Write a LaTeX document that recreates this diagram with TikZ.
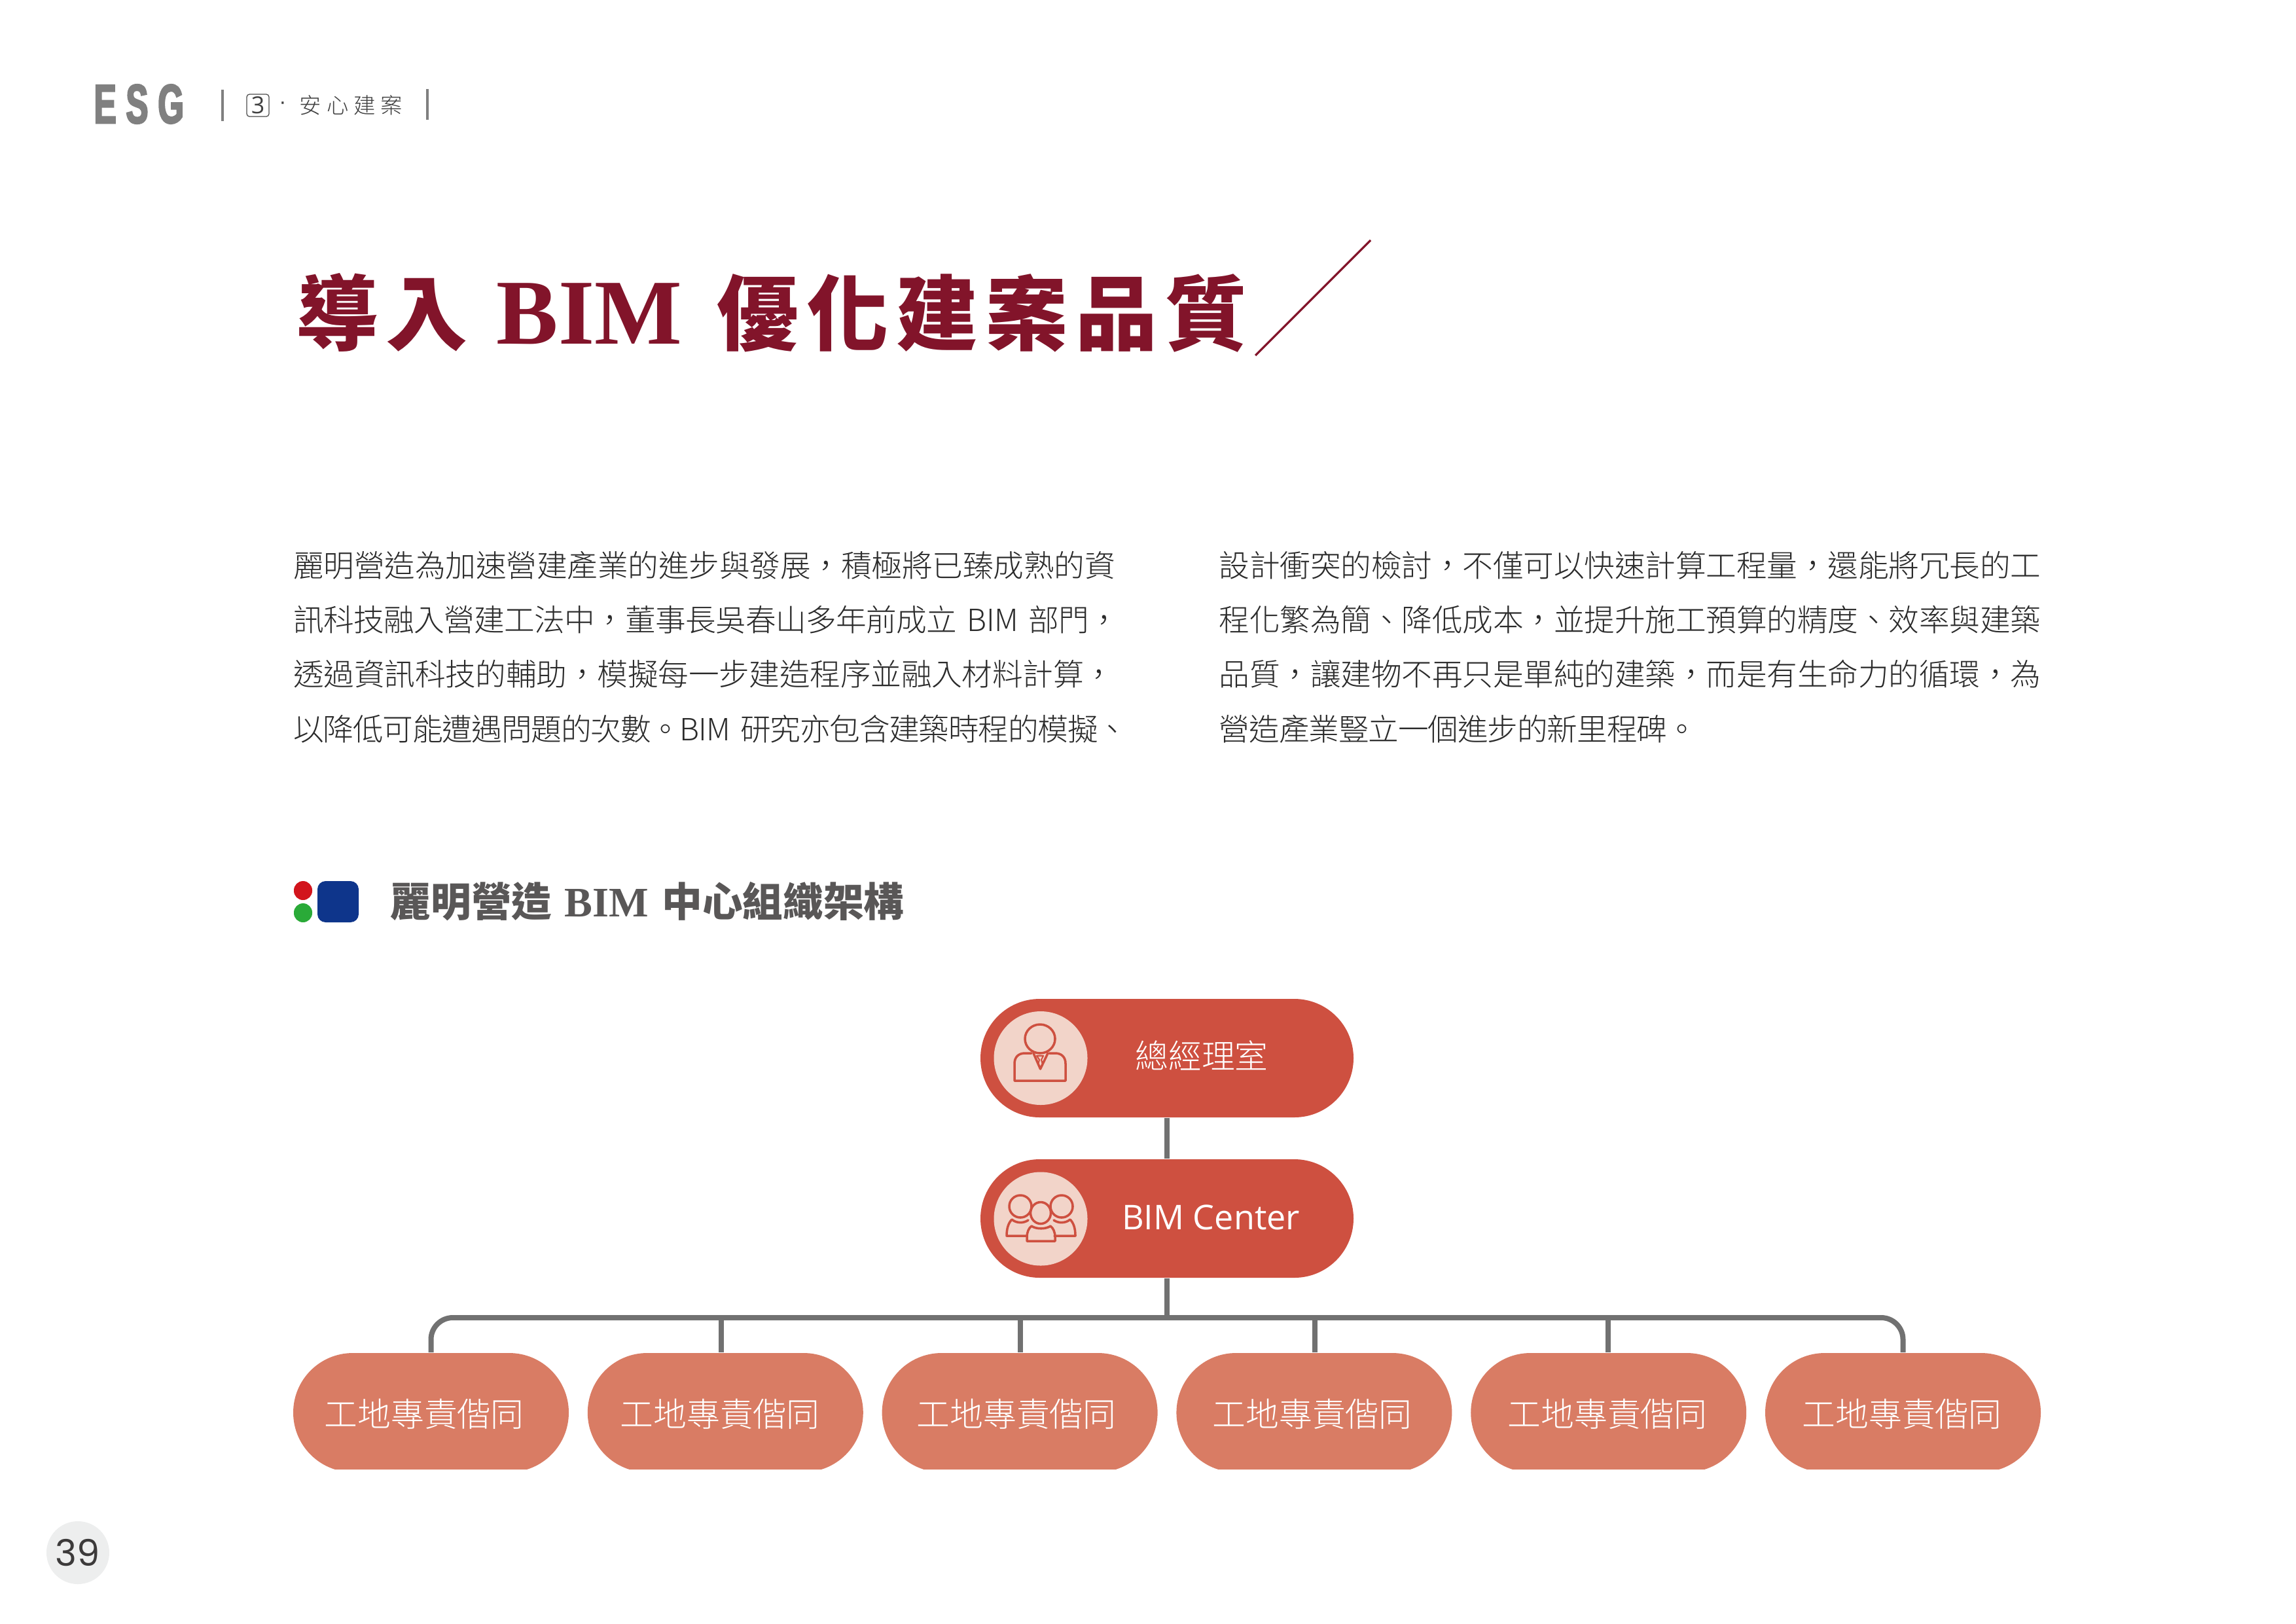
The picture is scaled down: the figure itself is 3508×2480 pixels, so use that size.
\documentclass[tikz,border=0pt]{standalone}
\usepackage{fontspec}
\usetikzlibrary{shapes.misc,backgrounds}
\setmainfont{Liberation Sans}
\newfontfamily\cjk{Noto Sans CJK TC}
\newfontfamily\cjklight{Noto Sans CJK TC Light}
\newfontfamily\cjkspaced{Noto Sans CJK TC Light}[LetterSpace=24]
\newfontfamily\titlecjk{Noto Sans CJK TC}[LetterSpace=9.6]
\newfontfamily\serifb{Liberation Serif}
\newfontfamily\esgfont{Liberation Sans}[UprightFont=* Bold,FakeStretch=0.6,LetterSpace=18,FakeBold=3]
\newfontfamily\numfont{Poppins}
\newfontfamily\latinlight{Open Sans}
\definecolor{pillred}{HTML}{CE5040}
\definecolor{workerred}{HTML}{D97C64}
\definecolor{disc}{HTML}{F2D4C9}
\definecolor{connector}{HTML}{717171}
\definecolor{titlered}{HTML}{82142A}
\definecolor{bodyink}{HTML}{2B2B2B}
\definecolor{subink}{HTML}{595757}
\definecolor{headgrey}{HTML}{808080}
\newcommand{\jline}[2]{{\addfontfeature{LetterSpace=#1}#2}}
\tikzset{
  mainpill/.style={rounded rectangle,fill=pillred,minimum width=136.8pt,minimum height=43.44pt,inner sep=0pt},
  workerpill/.style={rounded rectangle,fill=workerred,minimum width=101.04pt,minimum height=43.68pt,inner sep=0pt},
  disc/.style={circle,fill=disc,minimum size=34.32pt,inner sep=0pt},
  pilltext/.style={text=white,inner sep=0pt,font=\cjklight\fontsize{12.2}{14}\selectfont},
  bodytext/.style={anchor=north west,inner sep=0pt,align=left,text=bodyink,text width=320pt,font=\cjklight\fontsize{11.2}{20}\selectfont},
  conn/.style={draw=connector,line width=1.92pt},
  icon/.style={draw=pillred,line width=0.85pt,line join=round,line cap=round},
  headbar/.style={draw=headgrey,line width=0.75pt},
}
\begin{document}
\begin{tikzpicture}[x=0.24pt,y=-0.24pt]
\useasboundingbox (0,0) rectangle (3508,2480);
\begin{scope}[on background layer]
\fill[white] (0,0) rectangle (3508,2480);
\end{scope}

% running head
\node[anchor=base west,inner sep=0pt,text=headgrey,font=\esgfont\fontsize{20.2}{22}\selectfont] (esg) at (143,188) {ESG};
\coordinate (bar1t) at (340,137); \coordinate (bar1b) at (340,185);
\coordinate (bar2t) at (653,136); \coordinate (bar2b) at (653,183);
\draw[headbar] (bar1t) -- (bar1b);
\draw[headbar] (bar2t) -- (bar2b);
\node[draw=black!70,line width=0.3pt,rounded corners=1pt,minimum width=8.16pt,minimum height=8.16pt,inner sep=0pt,text=black!75,font=\latinlight\fontsize{8.6}{9}\selectfont] (chapno) at (394,161) {3};
\node[inner sep=0pt,text=black!75,font=\fontsize{8}{9}\selectfont] (dot) at (432,161) {·};
\node[anchor=west,inner sep=0pt,text=black!75,font=\cjkspaced\fontsize{8}{9}\selectfont] (chap) at (457,161) {安心建案};

% title
\node[anchor=base west,inner sep=0pt,text=titlered] (title) at (452,525) {\titlecjk\bfseries\fontsize{30}{34}\selectfont 導入\hspace{10.5pt}\serifb\bfseries\fontsize{34}{36}\selectfont BIM\hspace{12.9pt}\titlecjk\bfseries\fontsize{30}{34}\selectfont 優化建案品質};
\coordinate (slashA) at (1918,543); \coordinate (slashB) at (2094,367);
\draw[titlered,line width=0.75pt] (slashA) -- (slashB);

% body columns
\node[bodytext] (bodyL) at (447.5,841) {\jline{-0.36}{麗明營造為加速營建產業的進步與發展，積極將已臻成熟的資}\\
\jline{-1.3}{訊科技融入營建工法中，董事長吳春山多年前成立 BIM 部門，}\\
\jline{-0.5}{透過資訊科技的輔助，模擬每一步建造程序並融入材料計算，}\\
\jline{-2.65}{以降低可能遭遇問題的次數。BIM 研究亦包含建築時程的模擬、}};
\node[bodytext] (bodyR) at (1862,841) {\jline{-0.36}{設計衝突的檢討，不僅可以快速計算工程量，還能將冗長的工}\\
\jline{-0.36}{程化繁為簡、降低成本，並提升施工預算的精度、效率與建築}\\
\jline{-0.36}{品質，讓建物不再只是單純的建築，而是有生命力的循環，為}\\
\jline{-2.4}{營造產業豎立一個進步的新里程碑。}};

% sub-heading
\node[rounded rectangle,fill={rgb,255:red,210;green,20;blue,28},inner sep=0pt,rotate=90,minimum width=6.96pt,minimum height=6.72pt] (dotR) at (463,1360.5) {};
\node[rounded rectangle,fill={rgb,255:red,42;green,170;blue,56},inner sep=0pt,rotate=90,minimum width=6.96pt,minimum height=6.72pt] (dotG) at (463,1394.5) {};
\node[fill={rgb,255:red,14;green,53;blue,139},rounded corners=3pt,minimum width=15.12pt,minimum height=15.12pt,inner sep=0pt] (blueBox) at (516.5,1377.5) {};
\node[anchor=base west,inner sep=0pt,text=subink] (sub) at (596,1400) {\cjk\bfseries\fontsize{14.8}{17}\selectfont 麗明營造\hspace{4.5pt}\serifb\bfseries\fontsize{15.4}{17}\selectfont BIM\hspace{5pt}\cjk\bfseries\fontsize{14.8}{17}\selectfont 中心組織架構};

% org chart
\node[mainpill] (gm) at (1783,1616.5) {};
\node[mainpill] (bim) at (1783,1861.5) {};
\node[disc] (gmdisc) at (1590,1616.5) {};
\node[disc] (bimdisc) at (1590,1862) {};
\node[pilltext] (gmtext) at (1836,1612) {總經理室};
\node[text=white,inner sep=0pt,font=\latinlight\fontsize{12.5}{14}\selectfont] (bimtext) at (1850,1860) {BIM Center};

\begin{scope}
\clip (0,0) rectangle (3508,2244);
\node[workerpill] (w1) at (658.5,2158) {};
\node[workerpill] (w2) at (1108.3,2158) {};
\node[workerpill] (w3) at (1558.1,2158) {};
\node[workerpill] (w4) at (2007.9,2158) {};
\node[workerpill] (w5) at (2457.7,2158) {};
\node[workerpill] (w6) at (2907.5,2158) {};
\end{scope}
\node[pilltext] (wt1) at (648,2160) {工地專責偕同};
\node[pilltext] (wt2) at (1100,2160) {工地專責偕同};
\node[pilltext] (wt3) at (1553,2160) {工地專責偕同};
\node[pilltext] (wt4) at (2005,2160) {工地專責偕同};
\node[pilltext] (wt5) at (2456,2160) {工地專責偕同};
\node[pilltext] (wt6) at (2906,2160) {工地專責偕同};

\coordinate (bus) at (1783,2013);
\coordinate (t2) at (1102,2013);
\coordinate (t3) at (1559,2013);
\coordinate (t4) at (2009,2013);
\coordinate (t5) at (2457,2013);
\begin{scope}[on background layer]
\draw[conn] (gm.south) -- (bim.north);
\draw[conn] (bim.south) -- (bus);
\draw[conn,rounded corners=8pt] (w1.north) |- (bus) -| (w6.north);
\draw[conn] (t2) -- (t2 |- w2.north);
\draw[conn] (t3) -- (t3 |- w3.north);
\draw[conn] (t4) -- (t4 |- w4.north);
\draw[conn] (t5) -- (t5 |- w5.north);
\end{scope}

% person icon
\draw[icon] (1589,1587) ellipse (23 and 22);
\draw[icon] (1576,1609) -- (1566,1609) .. controls (1556,1609) and (1550,1615) .. (1550,1625) -- (1550,1651) -- (1628,1651) -- (1628,1625) .. controls (1628,1615) and (1622,1609) .. (1612,1609) -- (1603,1609);
\draw[icon] (1579,1609) -- (1589.5,1633) -- (1601,1609);
\draw[icon,line width=0.5pt] (1584,1613) -- (1594,1613) -- (1591,1619) -- (1593,1626) -- (1589.5,1631) -- (1586,1626) -- (1588,1619) -- cycle;

% group icon
\draw[icon] (1559,1843) ellipse (17 and 17);
\draw[icon] (1622,1843) ellipse (17 and 17);
\draw[icon] (1590,1853) ellipse (15.5 and 16.5);
\draw[icon] (1569,1888) -- (1538,1888) .. controls (1538,1876) and (1541,1868) .. (1546,1863) .. controls (1553,1869) and (1564,1869) .. (1571,1864);
\draw[icon] (1611,1888) -- (1643,1888) .. controls (1643,1876) and (1640,1868) .. (1635,1863) .. controls (1628,1869) and (1617,1869) .. (1610,1864);
\draw[icon] (1569,1896) -- (1612,1896) -- (1612,1890) .. controls (1612,1882) and (1609,1876) .. (1605,1873) .. controls (1598,1878) and (1583,1878) .. (1576,1873) .. controls (1572,1876) and (1569,1882) .. (1569,1890) -- cycle;

% page number
\node[circle,fill={rgb,255:red,237;green,238;blue,238},minimum size=23.04pt,inner sep=0pt,text={rgb,255:red,60;green,58;blue,58},font=\numfont\fontsize{13.4}{15}\selectfont] (page) at (119,2372) {39};
\end{tikzpicture}
\end{document}
